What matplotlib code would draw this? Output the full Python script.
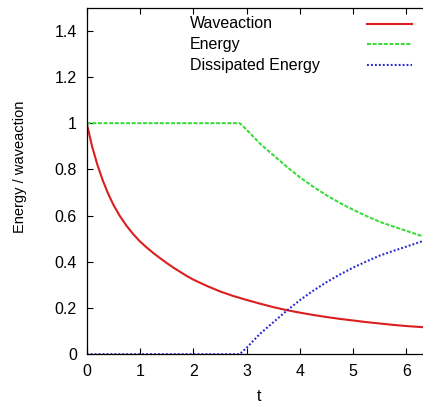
import matplotlib
matplotlib.use("Agg")
import matplotlib.pyplot as plt
from matplotlib.ticker import FormatStrFormatter

plt.rcParams['font.family'] = ['Liberation Sans', 'DejaVu Sans']

# waveaction N(t)
t_wave = [0, 0.1, 0.2, 0.3, 0.4, 0.5, 0.625, 0.75, 0.875, 1.0, 1.125, 1.25,
          1.375, 1.5, 1.625, 1.75, 1.875, 2.0, 2.25, 2.5, 2.75, 3.0, 3.25, 3.5,
          3.75, 4.0, 4.25, 4.5, 4.75, 5.0, 5.25, 5.5, 5.75, 6.0, 6.31]
waveaction = [1.0, 0.90, 0.82, 0.753, 0.696, 0.647, 0.597, 0.555, 0.519, 0.488,
              0.462, 0.438, 0.416, 0.395, 0.375, 0.357, 0.339, 0.323, 0.296,
              0.272, 0.252, 0.235, 0.219, 0.204, 0.191, 0.180, 0.170, 0.161,
              0.153, 0.146, 0.139, 0.133, 0.127, 0.122, 0.117]

# energy and the part of it that has been dissipated
t_energy = [0, 2.87, 3.0, 3.25, 3.5, 3.75, 4.0, 4.25, 4.5, 4.75, 5.0, 5.25,
            5.5, 5.75, 6.0, 6.31]
energy = [1.0, 1.0, 0.972, 0.912, 0.862, 0.812, 0.766, 0.725, 0.688, 0.655,
          0.625, 0.598, 0.573, 0.553, 0.534, 0.51]
dissipated = [0.0, 0.0, 0.028, 0.088, 0.138, 0.188, 0.234, 0.275, 0.312, 0.345,
              0.375, 0.402, 0.427, 0.447, 0.466, 0.49]

x_ticks = [0, 1, 2, 3, 4, 5, 6]
y_ticks = [0, 0.2, 0.4, 0.6, 0.8, 1.0, 1.2, 1.4]

fig = plt.figure(figsize=(4.23, 4.03), dpi=100)
ax = fig.add_axes([0.205, 0.121, 0.795, 0.860])

series = [
    ("Waveaction", t_wave, waveaction, dict(color="#dc1e1e", lw=1.5, ls="-")),
    ("Energy", t_energy, energy, dict(color="#3cdc3c", lw=1.5, ls=(0, (1.9, 0.8)))),
    ("Dissipated Energy", t_energy, dissipated, dict(color="#2828d2", lw=1.5, ls=(0, (0.9, 1.0)))),
]

for label, t, y, style in series:
    ax.plot(t, y, **style)

# gnuplot-style key: text on the left, line sample on the right
key_y = [0.954, 0.895, 0.834]
for (label, t, y, style), ky in zip(series, key_y):
    ax.text(0.307, ky, label, transform=ax.transAxes, fontsize=11.5,
            ha="left", va="center")
    ax.plot([0.833, 0.966], [ky, ky], transform=ax.transAxes, **style)

ax.set_xlim(0, 6.31)
ax.set_ylim(0, 1.5)
ax.set_xticks(x_ticks)
ax.set_yticks(y_ticks)
ax.yaxis.set_major_formatter(FormatStrFormatter('%g'))
ax.tick_params(direction="in", length=4, width=0.8, labelsize=11.5,
               top=True, right=False)
ax.tick_params(axis="x", pad=7)
ax.tick_params(axis="y", pad=7)
ax.spines["right"].set_visible(False)
for s in ("left", "bottom", "top"):
    ax.spines[s].set_linewidth(0.9)

ax.set_xlabel("t", fontsize=11.5)
ax.xaxis.set_label_coords(0.512, -0.122)
ax.xaxis.label.set_va("center")
ax.set_ylabel("Energy / waveaction", fontsize=10.5)
ax.yaxis.set_label_coords(-0.198, 0.54)
ax.yaxis.label.set_va("center")

fig.savefig("out.png", dpi=100)
